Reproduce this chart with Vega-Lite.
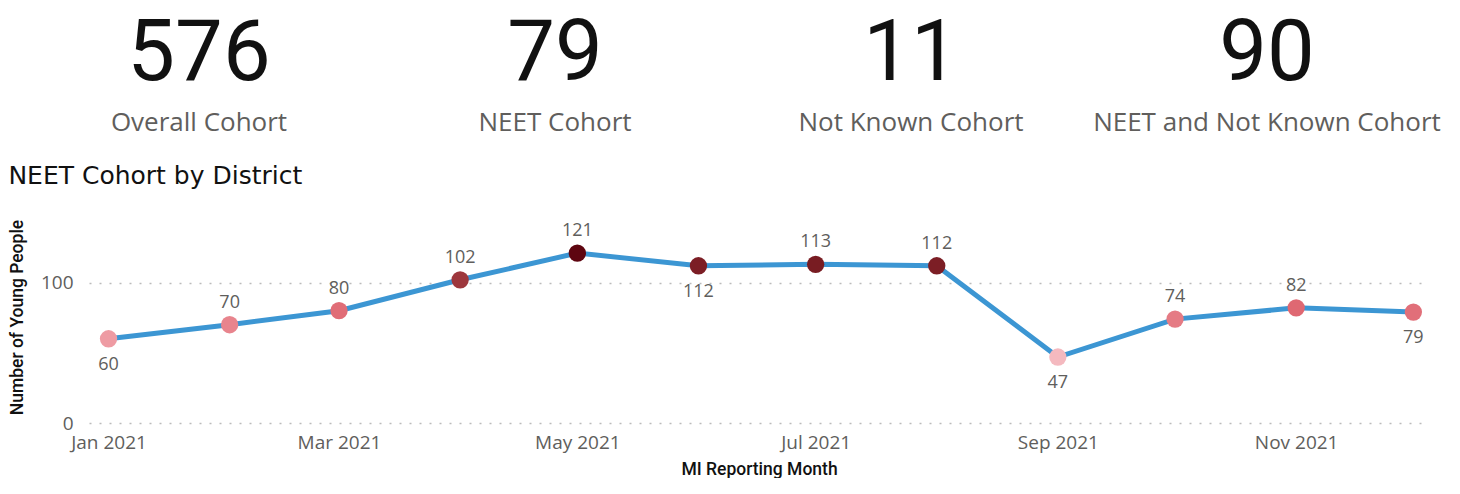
{
  "$schema": "https://vega.github.io/schema/vega-lite/v6.json",
  "padding": {"left": 8, "top": 0, "right": 0, "bottom": 0},
  "background": "white",
  "config": {"view": {"stroke": null}, "font": "Open Sans"},
  "spacing": 24,
  "vconcat": [
    {
      "width": 1372,
      "height": 140,
      "data": {"values": [
        {"card": "Overall Cohort", "idx": 0, "value": 576},
        {"card": "NEET Cohort", "idx": 1, "value": 79},
        {"card": "Not Known Cohort", "idx": 2, "value": 11},
        {"card": "NEET and Not Known Cohort", "idx": 3, "value": 90}
      ]},
      "encoding": {
        "x": {"field": "idx", "type": "quantitative", "scale": {"domain": [-0.309, 3.545], "nice": false, "zero": false}, "axis": null}
      },
      "layer": [
        {"mark": {"type": "text", "font": "Roboto", "fontSize": 85, "color": "#111111", "baseline": "alphabetic", "dy": 10}, "encoding": {"text": {"field": "value", "type": "quantitative"}}},
        {"mark": {"type": "text", "font": "Open Sans", "fontSize": 26, "color": "#605E5C", "baseline": "alphabetic", "dy": 61}, "encoding": {"text": {"field": "card", "type": "nominal"}}}
      ]
    },
    {
      "width": 1340,
      "height": 212,
      "title": {"text": "NEET Cohort by District", "anchor": "start", "font": "DejaVu Sans", "fontSize": 25, "fontWeight": "normal", "color": "#111111", "offset": 22},
      "data": {"values": [
        {"month": "2021-01-01", "value": 60},
        {"month": "2021-02-01", "value": 70},
        {"month": "2021-03-01", "value": 80},
        {"month": "2021-04-01", "value": 102},
        {"month": "2021-05-01", "value": 121},
        {"month": "2021-06-01", "value": 112},
        {"month": "2021-07-01", "value": 113},
        {"month": "2021-08-01", "value": 112},
        {"month": "2021-09-01", "value": 47},
        {"month": "2021-10-01", "value": 74},
        {"month": "2021-11-01", "value": 82},
        {"month": "2021-12-01", "value": 79}
      ]},
      "encoding": {
        "x": {"field": "month", "type": "temporal",
          "scale": {"type": "utc", "domain": [{"year": 2020, "month": 12, "date": 27, "utc": true}, {"year": 2021, "month": 12, "date": 5, "utc": true}]},
          "axis": {"format": "%b %Y", "tickCount": {"interval": "month", "step": 2}, "grid": false, "domain": false, "ticks": false, "labelFont": "Open Sans", "labelFontSize": 19, "labelColor": "#605E5C", "labelPadding": 10, "labelFlush": false, "title": "MI Reporting Month", "titleFont": "Roboto", "titleFontSize": 17.5, "titleFontWeight": 500, "titleColor": "#111111", "titlePadding": 8}},
        "y": {"field": "value", "type": "quantitative",
          "scale": {"domain": [0, 151], "nice": false},
          "axis": {"values": [0, 100], "grid": true, "gridDash": [2, 8], "gridColor": "#BBBBBB", "gridWidth": 1.5, "domain": false, "ticks": false, "labelFont": "Open Sans", "labelFontSize": 19, "labelColor": "#605E5C", "labelPadding": 16, "title": "Number of Young People", "titleFont": "Roboto", "titleFontSize": 17.5, "titleFontWeight": 500, "titleColor": "#111111", "titlePadding": 14}}
      },
      "layer": [
        {"mark": {"type": "line", "color": "#3C96D3", "strokeWidth": 5}},
        {"mark": {"type": "circle", "size": 300, "opacity": 1},
          "encoding": {"color": {"field": "value", "type": "quantitative", "scale": {"domain": [47, 84, 121], "range": ["#F4B9BF", "#DD636E", "#5E0510"]}, "legend": null}}},
        {"transform": [{"filter": "indexof([0, 5, 8, 11], utcmonth(datum.month)) < 0"}],
          "mark": {"type": "text", "font": "Open Sans", "fontSize": 18, "color": "#605E5C", "baseline": "middle", "dy": -22},
          "encoding": {"text": {"field": "value", "type": "quantitative"}}},
        {"transform": [{"filter": "indexof([0, 5, 8, 11], utcmonth(datum.month)) >= 0"}],
          "mark": {"type": "text", "font": "Open Sans", "fontSize": 18, "color": "#605E5C", "baseline": "middle", "dy": 26},
          "encoding": {"text": {"field": "value", "type": "quantitative"}}}
      ]
    }
  ]
}
